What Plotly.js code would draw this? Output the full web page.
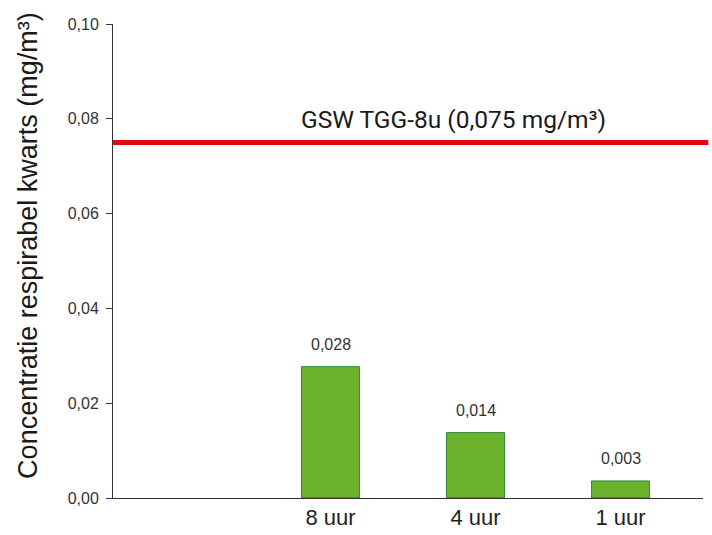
<!DOCTYPE html>
<html>
<head>
<meta charset="utf-8">
<script src="https://cdn.plot.ly/plotly-3.0.1.min.js"></script>
<style>html,body{margin:0;padding:0;background:#fff;}#chart{width:712px;height:535px;}</style>
</head>
<body>
<div id="chart"></div>
<script>
// Data
const categories = ['', '8 uur', '4 uur', '1 uur'];
const values = [null, 0.0277, 0.0138, 0.0036];
const valueLabels = ['', '0,028', '0,014', '0,003'];
const limitValue = 0.075;
const limitLabel = 'GSW TGG-8u (0,075 mg/m³)';
const yTitle = 'Concentratie respirabel kwarts (mg/m³)';

const xIdx = categories.map((c, i) => i);
const barWidth = 0.4;

const trace = {
  type: 'bar',
  x: xIdx,
  y: values,
  width: barWidth,
  marker: {color: '#6DB22C', line: {color: '#2E8B3A', width: 1}},
  hoverinfo: 'skip',
  showlegend: false
};

const annotations = [];
const shapes = [
  {type: 'line', xref: 'paper', yref: 'y', x0: 0, x1: 1.009, y0: limitValue, y1: limitValue,
   line: {color: '#E30613', width: 5}}
];
xIdx.forEach((x, i) => {
  if (values[i] != null) {
    annotations.push({
      x: x, y: values[i], xref: 'x', yref: 'y',
      text: valueLabels[i], showarrow: false,
      yshift: 22,
      font: {family: '"Liberation Sans", Arial, sans-serif', size: 16, color: '#333'}
    });
    shapes.push({type: 'line', xref: 'x', yref: 'y', x0: x - barWidth / 2, x1: x + barWidth / 2,
      y0: 0, y1: 0, line: {color: '#E8383D', width: 2}});
  }
});
annotations.push({
  x: 1.85, y: limitValue, xref: 'x', yref: 'y',
  text: limitLabel, showarrow: false, yshift: 23,
  font: {family: 'Roboto, "Liberation Sans", sans-serif', size: 24.5, color: '#1a1a1a'}
});
annotations.push({
  x: -0.172, y: 0.533, xref: 'paper', yref: 'paper',
  text: yTitle, showarrow: false, textangle: -90,
  font: {family: '"Liberation Sans", Arial, sans-serif', size: 27, color: '#1a1a1a'}
});

const layout = {
  width: 712, height: 535,
  margin: {l: 113, r: 9, t: 24, b: 37},
  paper_bgcolor: '#fff', plot_bgcolor: '#fff',
  separators: ',.',
  xaxis: {
    range: [-0.5, 3.569],
    tickvals: xIdx, ticktext: categories,
    showgrid: false, zeroline: false,
    showline: true, linecolor: '#333', linewidth: 1,
    ticks: '', fixedrange: true,
    tickfont: {family: '"Liberation Sans", Arial, sans-serif', size: 22, color: '#222'}
  },
  yaxis: {
    range: [0, 0.1], dtick: 0.02, tick0: 0, tickformat: '.2f',
    showgrid: false, zeroline: false,
    showline: true, linecolor: '#333', linewidth: 1,
    ticks: 'outside', ticklen: 6, tickcolor: '#333', tickwidth: 1,
    ticklabelstandoff: 4,
    tickfont: {family: '"Liberation Sans", Arial, sans-serif', size: 16, color: '#333'}
  },
  shapes: shapes,
  annotations: annotations
};

Plotly.newPlot('chart', [trace], layout, {displayModeBar: false, staticPlot: true});
</script>
</body>
</html>
